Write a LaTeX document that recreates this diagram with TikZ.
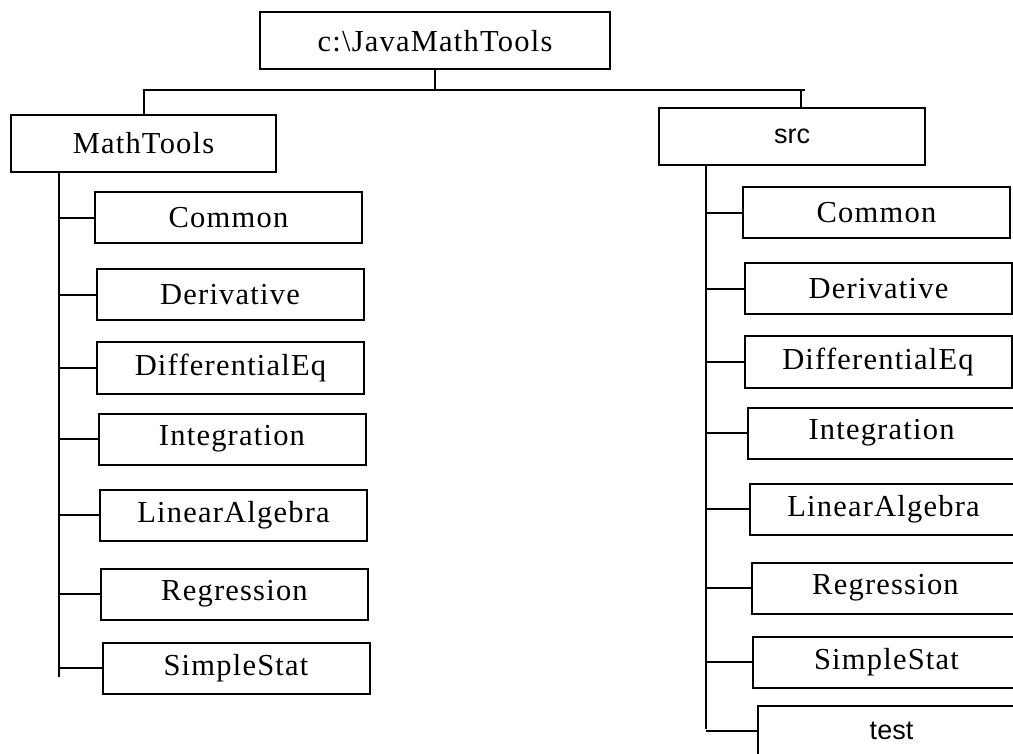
\documentclass[tikz,border=0pt]{standalone}
\usepackage{fontspec}
\setmainfont{Liberation Serif}[LetterSpace=4]
\newfontfamily\srcfont{Liberation Sans}
\begin{document}
\begin{tikzpicture}[x=1pt,y=-1pt,
  box/.style={draw, line width=2pt, rectangle, inner sep=0pt, minimum width=267pt, minimum height=51pt,
    font=\fontsize{30.5}{35}\selectfont},
  bigbox/.style={box, minimum width=265pt, minimum height=57pt},
  small/.style={font=\srcfont\fontsize{27}{32}\selectfont},
  link/.style={line width=2pt}]
\useasboundingbox (0,0) rectangle (1013,754);
\clip (0,0) rectangle (1013,754);
\fill[white] (0,0) rectangle (1013,754);
% root and second level
\node[bigbox, minimum width=350pt] (root) at (435,41) {c:\textbackslash JavaMathTools};
\node[bigbox] (mt) at (143.5,143.5) {MathTools};
\node[bigbox, minimum width=266pt, small] (src) at (792,136.5) {src};
\coordinate (busL) at (143,90);
\coordinate (busR) at (805,90);
\coordinate (srcstem) at (801,108);
\draw[link] (root.south) -- (root.south |- busL);
\draw[link] (busL) -- (busR);
\draw[link] (mt.north) -- (mt.north |- busL);
\draw[link] (srcstem) -- (srcstem |- busR);
% left column
\node[box] (l1) at (228.5,218) {Common};
\node[box] (l2) at (230,295) {Derivative};
\node[box] (l3) at (230.5,368) {DifferentialEq};
\node[box] (l4) at (232,439) {Integration};
\node[box] (l5) at (233.5,515) {LinearAlgebra};
\node[box] (l6) at (234.5,594) {Regression};
\node[box] (l7) at (236,668) {SimpleStat};
\coordinate (lt) at (59,172);
\coordinate (lb) at (59,677);
\draw[link] (lt) -- (lb);
\foreach \n in {l1,l2,l3,l4,l5,l6,l7} \draw[link] (\n.west) -- (\n.west -| lt);
% right column
\node[box] (r1) at (876.5,213) {Common};
\node[box] (r2) at (878.5,289) {Derivative};
\node[box] (r3) at (878,362) {DifferentialEq};
\node[box] (r4) at (881.5,433) {Integration};
\node[box] (r5) at (883.5,509) {LinearAlgebra};
\node[box] (r6) at (885.5,588) {Regression};
\node[box] (r7) at (886.5,662) {SimpleStat};
\node[box, small] (r8) at (891.5,731) {test};
\coordinate (rt) at (706,165);
\coordinate (rb) at (706,729);
\draw[link] (rt) -- (rb);
\foreach \n in {r1,r2,r3,r4,r5,r6,r7,r8} \draw[link] (\n.west) -- (\n.west -| rt);
\end{tikzpicture}
\end{document}
